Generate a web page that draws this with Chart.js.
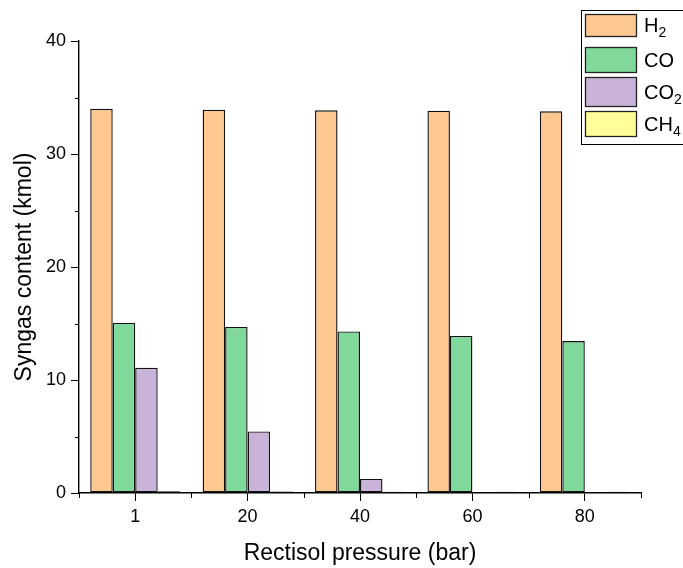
<!DOCTYPE html>
<html>
<head>
<meta charset="utf-8">
<script src="https://cdn.jsdelivr.net/npm/chart.js@4/dist/chart.umd.min.js"></script>
<style>
  body { margin: 0; background: #fff; }
  #wrap { width: 683px; height: 568px; }
</style>
</head>
<body>
<div id="wrap"><canvas id="myChart" width="683" height="568"></canvas></div>
<script>
// rectisol pressure (bar)
const pressures = ["1", "20", "40", "60", "80"]
// syngas content (kmol)
const h2 = [34.0, 33.92, 33.87, 33.83, 33.78]
const co = [15.05, 14.7, 14.3, 13.9, 13.45]
const co2 = [11.08, 5.45, 1.25, 0, 0]
const ch4 = [0.15, 0.13, 0.12, 0.1, 0.1]
const yTicks = [0, 10, 20, 30, 40]
// legend: base text + subscript
const legendNames = [["H", "2"], ["CO", ""], ["CO", "2"], ["CH", "4"]]

const FONT = "'Liberation Sans', Arial, sans-serif"

// minor ticks, drawn from the scales
const minorTicks = {
  id: "minorTicks",
  afterDraw(chart) {
    const ctx = chart.ctx
    const x = chart.scales.x, y = chart.scales.y
    ctx.save()
    ctx.strokeStyle = "#000"
    ctx.lineWidth = 1
    ctx.beginPath()
    for (let v = 5; v < 40; v += 10) {
      const py = Math.round(y.getPixelForValue(v)) + 0.5
      ctx.moveTo(x.left, py); ctx.lineTo(x.left - 4, py)
    }
    const half = (x.getPixelForValue(1) - x.getPixelForValue(0)) / 2
    for (let i = 0; i <= pressures.length; i++) {
      const px = Math.round(x.getPixelForValue(0) - half + i * half * 2) + 0.5
      ctx.moveTo(px, y.bottom); ctx.lineTo(px, y.bottom + 5)
    }
    ctx.stroke()
    ctx.restore()
  }
}

// legend box with subscripts
const subLegend = {
  id: "subLegend",
  afterDraw(chart) {
    const ctx = chart.ctx
    ctx.save()
    ctx.fillStyle = "#fff"
    ctx.strokeStyle = "#000"
    ctx.lineWidth = 1
    ctx.fillRect(581, 10, 110, 134)
    ctx.strokeRect(581.5, 10.5, 110, 134)
    const rows = [[14, 37], [47, 73], [77, 107], [111, 137]]
    chart.data.datasets.forEach((ds, i) => {
      const [t, b] = rows[i]
      ctx.fillStyle = ds.backgroundColor
      ctx.fillRect(585, t, 52, b - t)
      ctx.strokeStyle = "#222"
      ctx.lineWidth = 1.3
      ctx.strokeRect(585.5, t + 0.5, 51, b - t - 1)
      const mid = (t + b) / 2
      ctx.fillStyle = "#000"
      ctx.textBaseline = "middle"
      ctx.font = "20px " + FONT
      const [base, sub] = legendNames[i]
      ctx.fillText(base, 644, mid + 1)
      const w = ctx.measureText(base).width
      if (sub) {
        ctx.font = "14px " + FONT
        ctx.fillText(sub, 644 + w, mid + 8)
      }
    })
    ctx.restore()
  }
}

const chart = new Chart("myChart", {
  type: "bar",
  data: {
    labels: pressures,
    datasets: [
      { label: "H2", data: h2, backgroundColor: "#FFC891" },
      { label: "CO", data: co, backgroundColor: "#80D99B" },
      { label: "CO2", data: co2, backgroundColor: "#C9B3D8" },
      { label: "CH4", data: ch4, backgroundColor: "#FFFF99" }
    ].map(d => Object.assign(d, {
      borderColor: "#111",
      borderWidth: 1.4,
      borderSkipped: false,
      categoryPercentage: 0.8,
      barPercentage: 1.0
    }))
  },
  options: {
    responsive: false,
    animation: false,
    layout: { padding: { top: 41, right: 42, left: 0, bottom: 0 } },
    plugins: {
      legend: { display: false },
      tooltip: { enabled: false }
    },
    scales: {
      x: {
        offset: true,
        grid: { offset: false, drawOnChartArea: false, tickLength: 8, tickColor: "#000", tickWidth: 1 },
        border: { display: true, color: "#000", width: 1.4 },
        ticks: { color: "#000", font: { family: FONT, size: 18 }, padding: 5 },
        title: { display: true, text: "Rectisol pressure (bar)", color: "#000",
                 font: { family: FONT, size: 23 }, padding: { top: 0, bottom: 1 } },
        afterFit(s) { s.height = 75 }
      },
      y: {
        min: 0, max: 40,
        afterBuildTicks(s) { s.ticks = yTicks.map(v => ({ value: v })) },
        grid: { drawOnChartArea: false, tickLength: 8, tickColor: "#000", tickWidth: 1 },
        border: { display: true, color: "#000", width: 1.4 },
        ticks: { color: "#000", font: { family: FONT, size: 18 }, padding: 5 },
        title: { display: true, text: "Syngas content (kmol)", color: "#000",
                 font: { family: FONT, size: 23 }, padding: { top: 11, bottom: 0 } },
        afterFit(s) { s.width = 79 }
      }
    }
  },
  plugins: [minorTicks, subLegend]
})
</script>
</body>
</html>
